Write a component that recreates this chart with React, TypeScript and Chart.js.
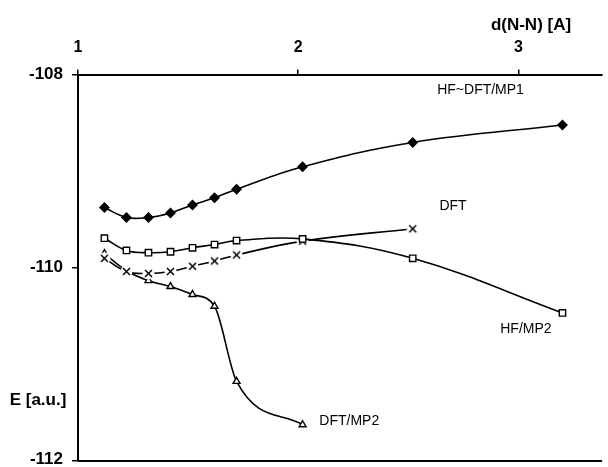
import { useEffect, useRef } from 'react';
import { Chart, registerables } from 'chart.js';

Chart.register(...registerables);

const FONT = "'Liberation Sans', Arial, sans-serif";

// Interatomic distance d(N-N) [A]
const distances = [1.12, 1.22, 1.32, 1.42, 1.52, 1.62, 1.72, 2.02, 2.52, 3.2];

// Energies E [a.u.]
const eHFDFTMP1 = [-109.377, -109.479, -109.479, -109.432, -109.35, -109.275, -109.187, -108.955, -108.703, -108.523];
const eHFMP2 = [-109.694, -109.82, -109.844, -109.834, -109.793, -109.759, -109.718, -109.701, -109.902, -110.467];
const eDFT = [-109.902, -110.038, -110.058, -110.038, -109.984, -109.929, -109.867, -109.724, -109.596];
const eDFTMP2 = [-109.854, -110.03, -110.133, -110.194, -110.276, -110.398, -111.175, -111.624];

const xTicks = [1, 2, 3];
const yTicks = [-112, -110, -108];

const xMin = 1;
const xMax = 3.38;
const yMin = -112;
const yMax = -108;

// Series labels placed in data coordinates
const seriesLabels = [
  { text: 'HF~DFT/MP1', x: 2.828, y: -108.158 },
  { text: 'DFT', x: 2.703, y: -109.363 },
  { text: 'HF/MP2', x: 3.034, y: -110.637 },
  { text: 'DFT/MP2', x: 2.232, y: -111.59 },
];

const xTitle = 'd(N-N) [A]';
const yTitle = 'E [a.u.]';

function toPoints(xs: number[], ys: number[]) {
  return ys.map((y, i) => ({ x: xs[i], y }));
}

function makeCrossMarker() {
  const c = document.createElement('canvas');
  const s = 13;
  c.width = s;
  c.height = s;
  const g = c.getContext('2d')!;
  g.fillStyle = '#fff';
  g.beginPath();
  g.arc(s / 2, s / 2, 6, 0, Math.PI * 2);
  g.fill();
  g.strokeStyle = '#000';
  g.lineWidth = 1.5;
  g.beginPath();
  g.moveTo(3, 3);
  g.lineTo(10, 10);
  g.moveTo(10, 3);
  g.lineTo(3, 10);
  g.stroke();
  return c;
}

export default function App() {
  const ref = useRef<HTMLCanvasElement | null>(null);

  useEffect(() => {
    document.body.style.margin = '0';
    const canvas = ref.current;
    if (!canvas) return;

    const textPlugin = {
      id: 'textPlugin',
      afterDraw(chart: any) {
        const ctx = chart.ctx;
        const xs = chart.scales.x;
        const ys = chart.scales.y;
        const area = chart.chartArea;
        ctx.save();
        // bottom frame line
        ctx.strokeStyle = '#000';
        ctx.lineWidth = 2;
        ctx.beginPath();
        ctx.moveTo(area.left, area.bottom);
        ctx.lineTo(area.right, area.bottom);
        ctx.stroke();

        ctx.fillStyle = '#000';
        // y tick labels
        ctx.font = `bold 17px ${FONT}`;
        ctx.textAlign = 'right';
        ctx.textBaseline = 'middle';
        yTicks.forEach((v) => {
          const py = Math.min(ys.getPixelForValue(v), 459);
          ctx.fillText(String(v), 63, py);
        });

        // series labels
        ctx.font = `14px ${FONT}`;
        ctx.textAlign = 'center';
        ctx.textBaseline = 'middle';
        seriesLabels.forEach((l) => {
          ctx.fillText(l.text, xs.getPixelForValue(l.x), ys.getPixelForValue(l.y));
        });

        // axis titles
        ctx.font = `bold 17px ${FONT}`;
        ctx.fillText(xTitle, 531, 25);
        ctx.fillText(yTitle, 38, 400);
        ctx.restore();
      },
    };

    const common = {
      borderColor: '#000',
      pointBorderColor: '#000',
      borderWidth: 1.6,
      pointBorderWidth: 1.4,
      showLine: true,
      fill: false,
    };

    const chart = new Chart(canvas, {
      type: 'scatter',
      data: {
        datasets: [
          {
            ...common,
            label: 'HF~DFT/MP1',
            data: toPoints(distances, eHFDFTMP1),
            pointStyle: 'rectRot',
            pointRadius: 4.5,
            pointBackgroundColor: '#000',
            tension: 0.4,
          },
          {
            ...common,
            label: 'HF/MP2',
            data: toPoints(distances, eHFMP2),
            pointStyle: 'rect',
            pointRadius: 4.5,
            pointBackgroundColor: '#fff',
            tension: 0.4,
          },
          {
            ...common,
            label: 'DFT',
            data: toPoints(distances.slice(0, eDFT.length), eDFT),
            pointStyle: makeCrossMarker(),
            pointRadius: 4.5,
            tension: 0.4,
          },
          {
            ...common,
            label: 'DFT/MP2',
            data: toPoints(distances.slice(0, eDFTMP2.length), eDFTMP2),
            pointStyle: 'triangle',
            pointRadius: 4,
            pointBackgroundColor: '#fff',
            cubicInterpolationMode: 'monotone',
          },
        ],
      } as any,
      options: {
        animation: false,
        responsive: false,
        devicePixelRatio: 1,
        layout: { padding: { left: 0, right: 0, top: 0, bottom: 1 } },
        plugins: {
          legend: { display: false },
          tooltip: { enabled: false },
        },
        scales: {
          x: {
            type: 'linear',
            position: 'top',
            min: xMin,
            max: xMax,
            afterBuildTicks: (s: any) => {
              s.ticks = xTicks.map((v) => ({ value: v }));
            },
            afterFit: (s: any) => {
              s.height = 74.5;
            },
            border: { display: true, color: '#000', width: 2 },
            grid: {
              display: true,
              drawOnChartArea: false,
              drawTicks: true,
              tickLength: 5,
              color: '#000',
              lineWidth: 1.5,
            },
            ticks: {
              color: '#000',
              font: { family: FONT, size: 16, weight: 'bold' },
              padding: 12,
              maxRotation: 0,
              callback: (v: any) => String(v),
            },
          },
          y: {
            type: 'linear',
            position: 'left',
            min: yMin,
            max: yMax,
            afterBuildTicks: (s: any) => {
              s.ticks = yTicks.map((v) => ({ value: v }));
            },
            afterFit: (s: any) => {
              s.width = 78;
            },
            border: { display: true, color: '#000', width: 2 },
            grid: {
              display: true,
              drawOnChartArea: false,
              drawTicks: true,
              tickLength: 6,
              color: '#000',
              lineWidth: 1.5,
            },
            ticks: { display: false },
          },
        },
      } as any,
      plugins: [textPlugin],
    });

    return () => chart.destroy();
  }, []);

  return (
    <div style={{ position: 'fixed', left: 0, top: 0, width: 608, height: 467, background: '#fff' }}>
      <canvas ref={ref} width={608} height={467} style={{ width: 608, height: 467, display: 'block' }} />
    </div>
  );
}
